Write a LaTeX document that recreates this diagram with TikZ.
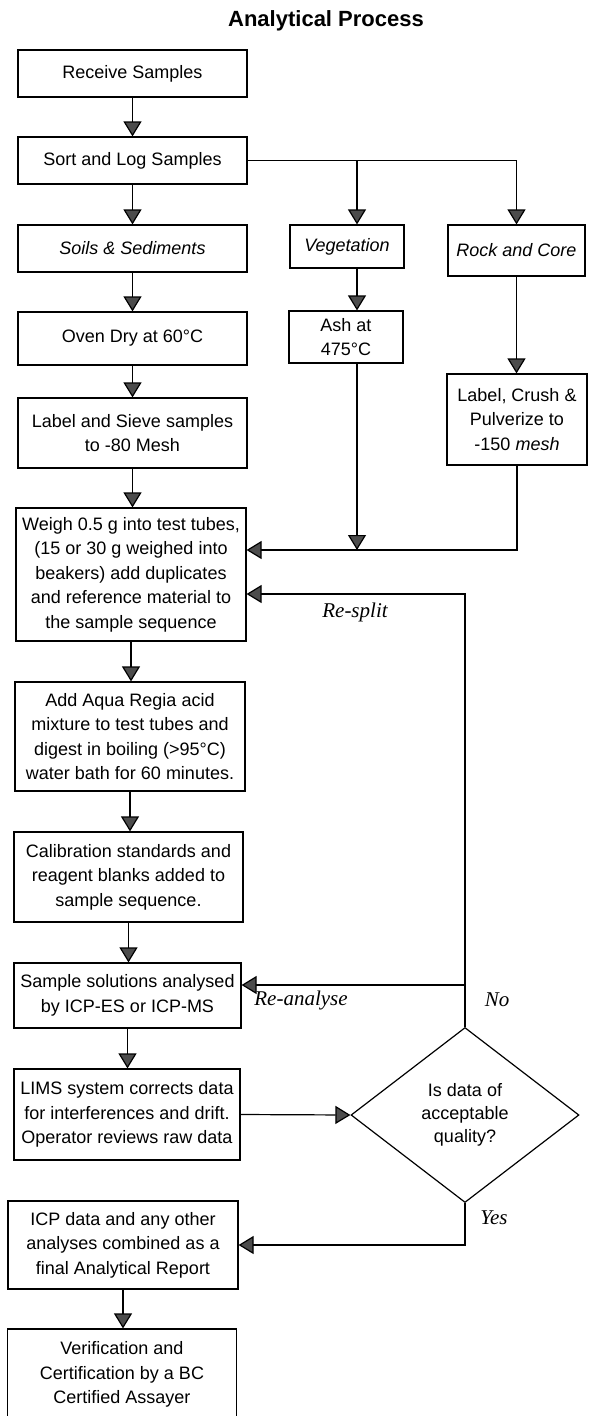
\documentclass[tikz,border=0pt]{standalone}
\usepackage{fontspec}
\setmainfont{Liberation Sans}
\newfontfamily\timesfont{Liberation Serif}
\usetikzlibrary{arrows.meta,shapes.geometric}
\begin{document}
\begin{tikzpicture}[x=1pt,y=-1pt,
  box/.style={draw, line width=1.2pt, inner sep=1pt, align=center,
    font=\fontsize{18}{24.5}\selectfont},
  arr/.style={line width=1.2pt, -{Triangle[width=18pt,length=15pt,fill=black!70]}},
  lab/.style={font=\fontsize{21}{24}\selectfont\timesfont\itshape}]
\useasboundingbox (0,0) rectangle (589,1416);
\clip (0,0) rectangle (589,1416);

\node[anchor=base, font=\fontsize{22}{26}\selectfont\bfseries] (title) at (326,27) {Analytical Process};

\node[box, minimum width=229pt, minimum height=47pt] (recv) at (132.5,73.5) {Receive Samples};
\node[box, minimum width=229pt, minimum height=47pt] (sort) at (132.5,160.5) {Sort and Log Samples};
\node[box, minimum width=229pt, minimum height=47pt, font=\fontsize{18}{24.5}\selectfont\itshape] (soils) at (132.5,248.5) {Soils \& Sediments};
\node[box, minimum width=114pt, minimum height=43pt, font=\fontsize{18}{24.5}\selectfont\itshape] (veg) at (347,246.5) {Vegetation};
\node[box, minimum width=137pt, minimum height=51pt, font=\fontsize{18}{24.5}\selectfont\itshape] (rock) at (516.5,250.5) {Rock and Core};
\node[box, minimum width=229pt, minimum height=53pt] (oven) at (132.5,338.5) {Oven Dry at 60°C};
\node[box, minimum width=114pt, minimum height=52pt] (ash) at (346,337) {Ash at\\475°C};
\node[box, minimum width=229pt, minimum height=70pt] (sieve) at (132.5,433) {Label and Sieve samples\\to -80 Mesh};
\node[box, minimum width=140pt, minimum height=91pt] (crush) at (517,419.5) {Label, Crush \&\\Pulverize to\\-150 \textit{mesh}};
\node[box, minimum width=230pt, minimum height=133pt] (weigh) at (131,574.5) {Weigh 0.5 g into test tubes,\\(15 or 30 g weighed into\\beakers) add duplicates\\and reference material to\\the sample sequence};
\node[box, minimum width=230pt, minimum height=109pt] (aqua) at (130,736.5) {Add Aqua Regia acid\\mixture to test tubes and\\digest in boiling (>95°C)\\water bath for 60 minutes.};
\node[box, minimum width=229pt, minimum height=90pt] (calib) at (128.5,877) {Calibration standards and\\reagent blanks added to\\sample sequence.};
\node[box, minimum width=227pt, minimum height=65pt] (sample) at (127.5,995.5) {Sample solutions analysed\\by ICP-ES or ICP-MS};
\node[box, minimum width=226pt, minimum height=91pt] (lims) at (127,1114.5) {LIMS system corrects data\\for interferences and drift.\\Operator reviews raw data};
\node[draw, diamond, line width=1.2pt, minimum width=228pt, minimum height=175pt, inner sep=0pt, align=center,
  font=\fontsize{18}{23.3}\selectfont] (dia) at (465,1115) {Is data of\\acceptable\\quality?};
\node[box, minimum width=230pt, minimum height=88pt] (icp) at (123,1245) {ICP data and any other\\analyses combined as a\\final Analytical Report};
\node[box, minimum width=229pt, minimum height=91pt] (verif) at (122,1374.5) {Verification and\\Certification by a BC\\Certified Assayer};

\coordinate (vline) at (357,0);
\coordinate (jy) at (0,550);
\coordinate (rsy) at (0,594);
\coordinate (ra) at (465,985);

\draw[arr] (recv.south) -- (recv.south |- sort.north);
\draw[arr] (sort.south) -- (sort.south |- soils.north);
\draw[arr] (sort.east) -| (rock.north);
\draw[arr] (vline |- sort.east) -- (vline |- veg.north);
\draw[arr] (soils.south) -- (soils.south |- oven.north);
\draw[arr] (oven.south) -- (oven.south |- sieve.north);
\draw[arr] (sieve.south) -- (sieve.south |- weigh.north);
\draw[arr] (vline |- veg.south) -- (vline |- ash.north);
\draw[arr] (rock.south) -- (rock.south |- crush.north);
\draw[arr] (vline |- ash.south) -- (vline |- jy);
\draw[arr] (crush.south) |- (weigh.east |- jy);
\draw[arr] (dia.north) |- (weigh.east |- rsy);
\draw[arr] (weigh.south) -- (weigh.south |- aqua.north);
\draw[arr] (aqua.south) -- (aqua.south |- calib.north);
\draw[arr] (calib.south) -- (calib.south |- sample.north);
\draw[arr] (ra) -- (sample.east |- ra);
\draw[arr] (sample.south) -- (sample.south |- lims.north);
\draw[arr] (lims.east) -- (dia.west);
\draw[arr] (dia.south) |- (icp.east);
\draw[arr] (icp.south) -- (icp.south |- verif.north);

\node[lab] (resplit) at (355,612) {Re-split};
\node[lab] (reanalyse) at (301,1000) {Re-analyse};
\node[lab] (no) at (497,1000) {No};
\node[lab] (yes) at (494,1218) {Yes};
\end{tikzpicture}
\end{document}
